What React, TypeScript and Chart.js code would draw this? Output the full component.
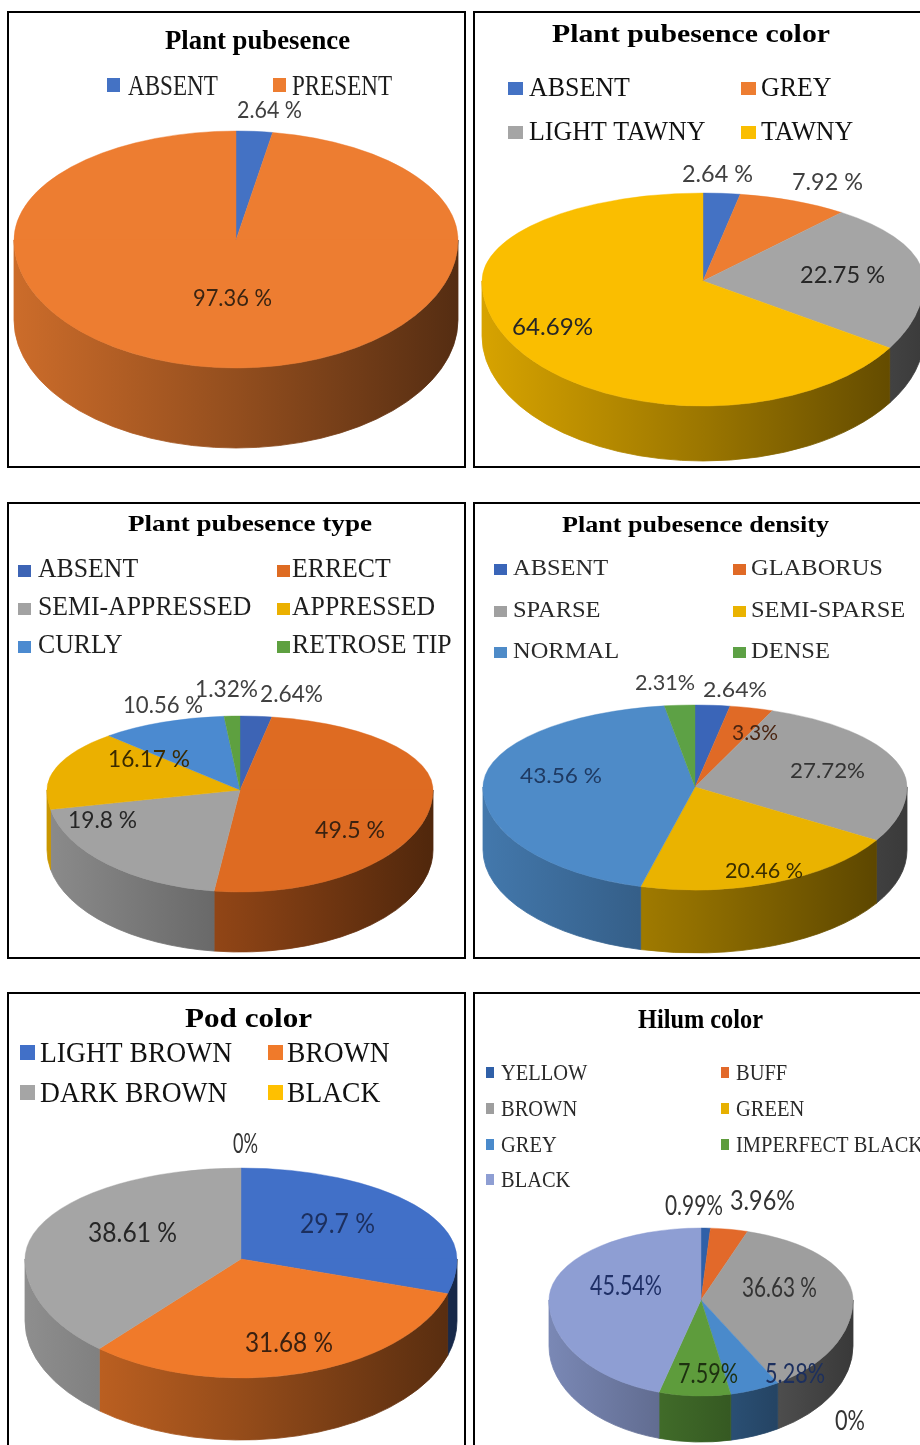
import React, { useEffect, useRef } from 'react';
import { Chart, registerables } from 'chart.js';

Chart.register(...registerables);

// ---------------- DATA ----------------
const PUB_TITLE = 'Plant pubesence';
const PUB_CATEGORIES = ['ABSENT', 'PRESENT'];
const PUB_VALUES = [2.64, 97.36];

const PUBCOL_TITLE = 'Plant pubesence color';
const PUBCOL_CATEGORIES = ['ABSENT', 'GREY', 'LIGHT TAWNY', 'TAWNY'];
const PUBCOL_VALUES = [2.64, 7.92, 22.75, 64.69];

const PUBTYPE_TITLE = 'Plant pubesence type';
const PUBTYPE_CATEGORIES = ['ABSENT', 'ERRECT', 'SEMI-APPRESSED', 'APPRESSED', 'CURLY', 'RETROSE TIP'];
const PUBTYPE_VALUES = [2.64, 49.5, 19.8, 16.17, 10.56, 1.32];

const PUBDEN_TITLE = 'Plant pubesence density';
const PUBDEN_CATEGORIES = ['ABSENT', 'GLABORUS', 'SPARSE', 'SEMI-SPARSE', 'NORMAL', 'DENSE'];
const PUBDEN_VALUES = [2.64, 3.3, 27.72, 20.46, 43.56, 2.31];

const POD_TITLE = 'Pod color';
const POD_CATEGORIES = ['LIGHT BROWN', 'BROWN', 'DARK BROWN', 'BLACK'];
const POD_VALUES = [29.7, 31.68, 38.61, 0];

const HILUM_TITLE = 'Hilum color';
const HILUM_CATEGORIES = ['YELLOW', 'BUFF', 'BROWN', 'GREEN', 'GREY', 'IMPERFECT BLACK', 'BLACK'];
const HILUM_VALUES = [0.99, 3.96, 36.63, 0, 5.28, 7.59, 45.54];

// ---------------- STYLE / LAYOUT ----------------
type Box = { x: number; y: number; w: number; h: number };
type Cfg = {
  box: Box;
  title: string;
  categories: string[];
  values: number[];
  colors: string[];
  // cx, cy: centre (tip) of the pie; ryB: back half-height, ryF: front half-height
  pie: { cx: number; cy: number; rx: number; ryB: number; ryF: number; depth: number };
  titleStyle: { cx: number; base: number; size: number; width: number };
  legend: { size: number; sx: number; cols: number[][]; rows: number[]; mw: number; mh: number; mOff: number; color: string };
  labels: { boxes: number[][]; space: boolean[]; size: number; colors: string[] };
};

const SERIF = '"Liberation Serif", "Times New Roman", serif';
const SANS = 'Lato, "Liberation Sans", sans-serif';

function shade(hex: string, f: number) {
  const h = hex.replace('#', '');
  const r = Math.round(parseInt(h.slice(0, 2), 16) * f);
  const g = Math.round(parseInt(h.slice(2, 4), 16) * f);
  const b = Math.round(parseInt(h.slice(4, 6), 16) * f);
  return `rgb(${r},${g},${b})`;
}

const CONFIGS: Cfg[] = [
  {
    box: { x: 7, y: 11, w: 459, h: 457 },
    title: PUB_TITLE,
    categories: PUB_CATEGORIES,
    values: PUB_VALUES,
    colors: ['#4472C4', '#ED7D31'],
    pie: { cx: 236, cy: 240, rx: 222, ryB: 109, ryF: 128, depth: 80 },
    titleStyle: { cx: 257.5, base: 49, size: 28, width: 185 },
    legend: { size: 30, sx: 0.77, cols: [[107, 128], [273, 292]], rows: [95], mw: 13, mh: 14, mOff: 3, color: '#1e1e1e' },
    labels: { boxes: [[237, 302, 118], [193, 272, 306]], space: [true, true], size: 23, colors: ['#404040', '#3a2412'] },
  },
  {
    box: { x: 473, y: 11, w: 460, h: 457 },
    title: PUBCOL_TITLE,
    categories: PUBCOL_CATEGORIES,
    values: PUBCOL_VALUES,
    colors: ['#4472C4', '#ED7D31', '#A5A5A5', '#FABE00'],
    pie: { cx: 703, cy: 281, rx: 221, ryB: 88, ryF: 125, depth: 55 },
    titleStyle: { cx: 691, base: 42, size: 26, width: 278 },
    legend: { size: 27, sx: 0.96, cols: [[508, 529], [741, 761]], rows: [96, 140], mw: 15, mh: 13, mOff: 1, color: '#111111' },
    labels: {
      boxes: [[682, 753, 182], [792, 863, 190], [800, 885, 283], [512, 593, 335]],
      space: [true, true, true, false],
      size: 24,
      colors: ['#404040', '#404040', '#262626', '#262626'],
    },
  },
  {
    box: { x: 7, y: 502, w: 459, h: 457 },
    title: PUBTYPE_TITLE,
    categories: PUBTYPE_CATEGORIES,
    values: PUBTYPE_VALUES,
    colors: ['#3D64B5', '#DE6B22', '#A2A2A2', '#EBB000', '#4B8AD0', '#5EA040'],
    pie: { cx: 240, cy: 790, rx: 193, ryB: 74, ryF: 102, depth: 60 },
    titleStyle: { cx: 250, base: 531, size: 23, width: 244 },
    legend: { size: 28, sx: 0.92, cols: [[18, 38], [277, 292]], rows: [577, 615, 653], mw: 13, mh: 12, mOff: 0, color: '#1e1e1e' },
    labels: {
      boxes: [[260, 323, 702], [315, 385, 838], [68, 137, 828], [108, 190, 767], [123, 203, 713], [195, 258, 697]],
      space: [false, true, true, true, true, false],
      size: 23,
      colors: ['#404040', '#3a2210', '#262626', '#3a2a00', '#404040', '#404040'],
    },
  },
  {
    box: { x: 473, y: 502, w: 460, h: 457 },
    title: PUBDEN_TITLE,
    categories: PUBDEN_CATEGORIES,
    values: PUBDEN_VALUES,
    colors: ['#3A65B8', '#E06A26', '#A0A0A0', '#EAB300', '#4E8BC8', '#5DA145'],
    pie: { cx: 695, cy: 787, rx: 212, ryB: 82, ryF: 103, depth: 63 },
    titleStyle: { cx: 695.5, base: 532, size: 23, width: 267 },
    legend: { size: 24, sx: 1.02, cols: [[494, 513], [733, 751]], rows: [575, 617, 658], mw: 13, mh: 11, mOff: 0, color: '#2a2a2a' },
    labels: {
      boxes: [[703, 767, 697], [732, 778, 740], [790, 865, 778], [725, 803, 878], [520, 602, 783], [635, 695, 690]],
      space: [false, false, false, true, true, false],
      size: 22,
      colors: ['#404040', '#4a2410', '#333333', '#3a2e00', '#1f3a62', '#404040'],
    },
  },
  {
    box: { x: 7, y: 992, w: 459, h: 460 },
    title: POD_TITLE,
    categories: POD_CATEGORIES,
    values: POD_VALUES,
    colors: ['#4170C8', '#F07A2A', '#A5A5A5', '#FFC000'],
    pie: { cx: 241, cy: 1259, rx: 216, ryB: 91, ryF: 119, depth: 62 },
    titleStyle: { cx: 248.5, base: 1027, size: 28, width: 127 },
    legend: { size: 29, sx: 0.95, cols: [[20, 40], [268, 287]], rows: [1062, 1102], mw: 15, mh: 15, mOff: 2, color: '#111111' },
    labels: {
      boxes: [[300, 375, 1233], [245, 333, 1352], [88, 177, 1242], [233, 258, 1153]],
      space: [true, true, true, false],
      size: 27,
      colors: ['#1c2f5e', '#3a2010', '#262626', '#333333'],
    },
  },
  {
    box: { x: 473, y: 992, w: 460, h: 460 },
    title: HILUM_TITLE,
    categories: HILUM_CATEGORIES,
    values: HILUM_VALUES,
    colors: ['#3060A8', '#E2692A', '#9E9E9E', '#E7B000', '#4A8ACB', '#5E9C3C', '#8E9ED3'],
    pie: { cx: 701, cy: 1300, rx: 152, ryB: 72, ryF: 96, depth: 46 },
    titleStyle: { cx: 700.5, base: 1028, size: 27, width: 125 },
    legend: { size: 23, sx: 0.89, cols: [[486, 501], [721, 736]], rows: [1080, 1116, 1152, 1187], mw: 8, mh: 11, mOff: 2, color: '#2a2a2a' },
    labels: {
      boxes: [[665, 723, 1215], [730, 795, 1210], [742, 817, 1297], [835, 865, 1430], [765, 825, 1383], [678, 738, 1383], [590, 662, 1295]],
      space: [false, false, true, false, false, false, false],
      size: 26,
      colors: ['#333333', '#333333', '#333333', '#333333', '#1c2f5e', '#1d3010', '#1f2f66'],
    },
  },
];

function drawScaledText(
  ctx: CanvasRenderingContext2D,
  text: string,
  x: number,
  base: number,
  font: string,
  color: string,
  opts: { sx?: number; width?: number; center?: boolean }
) {
  ctx.save();
  ctx.font = font;
  ctx.fillStyle = color;
  ctx.textAlign = 'left';
  ctx.textBaseline = 'alphabetic';
  const mw = ctx.measureText(text).width;
  const sx = opts.width ? opts.width / mw : opts.sx ?? 1;
  const w = mw * sx;
  const left = opts.center ? x - w / 2 : x;
  ctx.translate(left, base);
  ctx.scale(sx, 1);
  ctx.fillText(text, 0, 0);
  ctx.restore();
}

function pie3dPlugin(cfg: Cfg) {
  const ox = cfg.box.x;
  const oy = cfg.box.y;
  const cx = cfg.pie.cx - ox;
  const cy = cfg.pie.cy - oy;
  const W = cfg.box.w;
  const H = cfg.box.h;
  const setHalf = (ctx: CanvasRenderingContext2D, arc: any, front: boolean) => {
    const { rx, ryB, ryF } = cfg.pie;
    ctx.beginPath();
    if (front) ctx.rect(0, cy - 0.5, W, H - cy + 0.5);
    else ctx.rect(0, 0, W, cy + 0.5);
    ctx.clip();
    ctx.translate(cx, cy);
    ctx.scale(1, (front ? ryF : ryB) / rx);
    ctx.translate(-arc.x, -arc.y);
  };
  return {
    id: 'pie3d',
    beforeDatasetsDraw(chart: any) {
      const ctx = chart.ctx as CanvasRenderingContext2D;
      const arcs = chart.getDatasetMeta(0).data as any[];
      const { rx, ryF, depth } = cfg.pie;
      // side walls of the visible (front) half
      arcs.forEach((arc: any, i: number) => {
        const s = arc.startAngle;
        const e = arc.endAngle;
        if (!(e - s > 0)) return;
        const col = cfg.colors[i];
        for (let m = -1; m <= 1; m++) {
          const lo = Math.max(s, 2 * Math.PI * m);
          const hi = Math.min(e, 2 * Math.PI * m + Math.PI);
          if (hi <= lo) continue;
          ctx.beginPath();
          ctx.ellipse(cx, cy, rx, ryF, 0, lo, hi, false);
          ctx.ellipse(cx, cy + depth, rx, ryF, 0, hi, lo, true);
          ctx.closePath();
          const g = ctx.createLinearGradient(cx - rx, 0, cx + rx, 0);
          g.addColorStop(0, shade(col, 0.86));
          g.addColorStop(0.5, shade(col, 0.62));
          g.addColorStop(1, shade(col, 0.36));
          ctx.fillStyle = g;
          ctx.fill();
          ctx.strokeStyle = g;
          ctx.lineWidth = 0.8;
          ctx.stroke();
        }
      });
      // back half of the top face (drawn by Chart.js with this transform)
      ctx.save();
      setHalf(ctx, arcs[0], false);
    },
    afterDatasetsDraw(chart: any) {
      const ctx = chart.ctx as CanvasRenderingContext2D;
      ctx.restore();
      // front half of the top face: same arcs, redrawn by the controller
      const meta = chart.getDatasetMeta(0);
      ctx.save();
      setHalf(ctx, meta.data[0], true);
      meta.controller.draw();
      ctx.restore();
    },
    afterDraw(chart: any) {
      const ctx = chart.ctx as CanvasRenderingContext2D;
      // title
      const t = cfg.titleStyle;
      drawScaledText(ctx, cfg.title, t.cx - ox, t.base - oy, `bold ${t.size}px ${SERIF}`, '#000000', { width: t.width, center: true });
      // legend
      const L = cfg.legend;
      cfg.categories.forEach((name, i) => {
        const row = Math.floor(i / 2);
        const col = i % 2;
        const [mx, tx] = L.cols[col];
        const base = L.rows[row];
        ctx.fillStyle = cfg.colors[i];
        ctx.fillRect(mx - ox, base - L.mOff - L.mh - oy, L.mw, L.mh);
        drawScaledText(ctx, name, tx - ox, base - oy, `${L.size}px ${SERIF}`, L.color, { sx: L.sx });
      });
      // data labels
      const lb = cfg.labels;
      cfg.values.forEach((v, i) => {
        const [x0, x1, base] = lb.boxes[i];
        const text = `${v}${lb.space[i] ? ' ' : ''}%`;
        drawScaledText(ctx, text, (x0 + x1) / 2 - ox, base - oy, `${lb.size}px ${SANS}`, lb.colors[i], { width: x1 - x0, center: true });
      });
    },
  };
}

function Panel({ cfg }: { cfg: Cfg }) {
  const ref = useRef<HTMLCanvasElement>(null);
  useEffect(() => {
    const canvas = ref.current;
    if (!canvas) return;
    const chart = new Chart(canvas, {
      type: 'pie',
      data: {
        labels: cfg.categories,
        datasets: [
          {
            data: cfg.values,
            backgroundColor: cfg.colors,
            borderColor: cfg.colors,
            borderWidth: 0.6,
            radius: cfg.pie.rx,
            clip: false,
          } as any,
        ],
      },
      options: {
        responsive: false,
        maintainAspectRatio: false,
        animation: false,
        events: [],
        layout: { padding: 0 },
        plugins: {
          legend: { display: false },
          title: { display: false },
          tooltip: { enabled: false },
        },
      },
      plugins: [pie3dPlugin(cfg) as any],
    });
    return () => chart.destroy();
  }, [cfg]);
  const b = cfg.box;
  return (
    <>
      <canvas
        ref={ref}
        width={b.w}
        height={b.h}
        style={{ position: 'absolute', left: b.x, top: b.y, width: b.w, height: b.h }}
      />
      <div
        style={{
          position: 'absolute',
          left: b.x,
          top: b.y,
          width: b.w,
          height: b.h,
          border: '2px solid #000',
          boxSizing: 'border-box',
          pointerEvents: 'none',
        }}
      />
    </>
  );
}

export default function App() {
  return (
    <div
      style={{
        position: 'absolute',
        left: 0,
        top: 0,
        width: 920,
        height: 1445,
        overflow: 'hidden',
        background: '#ffffff',
      }}
    >
      {CONFIGS.map((c, i) => (
        <Panel key={i} cfg={c} />
      ))}
    </div>
  );
}
